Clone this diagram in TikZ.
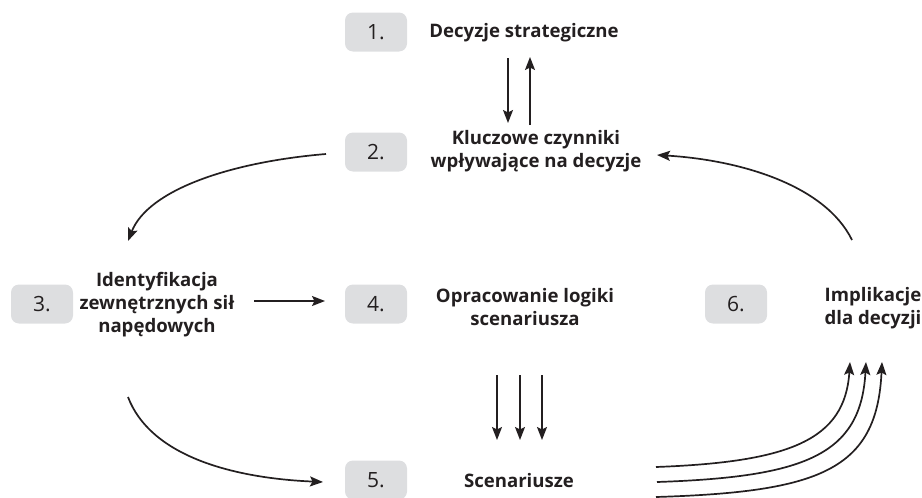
\documentclass[tikz,border=0pt]{standalone}
\usepackage{fontspec}
\setmainfont{Open Sans}
\usetikzlibrary{arrows.meta}
\definecolor{ink}{HTML}{231F20}
\definecolor{boxgray}{HTML}{DDDEE0}
\begin{document}
\begin{tikzpicture}[x=1pt,y=-1pt,
  numbox/.style={fill=boxgray, rounded corners=8pt, minimum width=62pt,
    minimum height=39pt, inner sep=0pt, text=ink,
    font=\fontsize{21}{24}\selectfont},
  steplabel/.style={align=center, text=ink, inner sep=0pt,
    font=\bfseries\fontsize{18.6}{23}\selectfont},
  flow/.style={draw=ink, line width=1.7pt,
    -{Stealth[length=13pt,width=10pt,inset=2.5pt]}}]
\useasboundingbox (0,0) rectangle (922,498);

% numbered boxes
\node[numbox] (b1) at (376,32)  {1.};
\node[numbox] (b2) at (376,152) {2.};
\node[numbox] (b3) at (42,304)  {3.};
\node[numbox] (b4) at (376,304) {4.};
\node[numbox] (b5) at (376,480) {5.};
\node[numbox] (b6) at (736,304) {6.};

% step descriptions
\node[steplabel] (t1) at (524,33)  {Decyzje strategiczne};
\node[steplabel] (t2) at (536,151) {Kluczowe czynniki\\wpływające na decyzje};
\node[steplabel] (t3) at (157,305) {Identyfikacja\\zewnętrznych sił\\napędowych};
\node[steplabel] (t4) at (525,307) {Opracowanie logiki\\scenariusza};
\node[steplabel] (t5) at (519,481) {Scenariusze};
\node[steplabel] (t6) at (873,308) {Implikacje\\dla decyzji};

% connector end points
\coordinate (d12a) at (508,58);  \coordinate (d12b) at (508,123);
\coordinate (u21a) at (530,125); \coordinate (u21b) at (530,57);
\coordinate (c23a) at (326,154); \coordinate (c23b) at (128,241);
\coordinate (c62a) at (852,240); \coordinate (c62b) at (657,155);
\coordinate (c34a) at (254,301); \coordinate (c34b) at (325,301);
\coordinate (c35a) at (128,397); \coordinate (c35b) at (323,482);
\coordinate (v1a) at (497,375); \coordinate (v1b) at (497,440);
\coordinate (v2a) at (520,375); \coordinate (v2b) at (520,440);
\coordinate (v3a) at (542,375); \coordinate (v3b) at (542,440);
\coordinate (s1a) at (656,467); \coordinate (s1b) at (850,362);
\coordinate (s2a) at (657,482); \coordinate (s2b) at (866,362);
\coordinate (s3a) at (656,497); \coordinate (s3b) at (882,362);

% between steps 1 and 2
\draw[flow] (d12a) -- (d12b);
\draw[flow] (u21a) -- (u21b);

% 2 -> 3 and 6 -> 2
\draw[flow] (c23a) .. controls (230,162) and (148,190) .. (c23b);
\draw[flow] (c62a) .. controls (825,185) and (740,160) .. (c62b);

% 3 -> 4 and 3 -> 5
\draw[flow] (c34a) -- (c34b);
\draw[flow] (c35a) .. controls (150,455) and (230,478) .. (c35b);

% 4 -> 5
\draw[flow] (v1a) -- (v1b);
\draw[flow] (v2a) -- (v2b);
\draw[flow] (v3a) -- (v3b);

% 5 -> 6
\draw[flow] (s1a) .. controls (790,462) and (845,440) .. (s1b);
\draw[flow] (s2a) .. controls (805,477) and (861,455) .. (s2b);
\draw[flow] (s3a) .. controls (820,492) and (877,470) .. (s3b);
\end{tikzpicture}
\end{document}
